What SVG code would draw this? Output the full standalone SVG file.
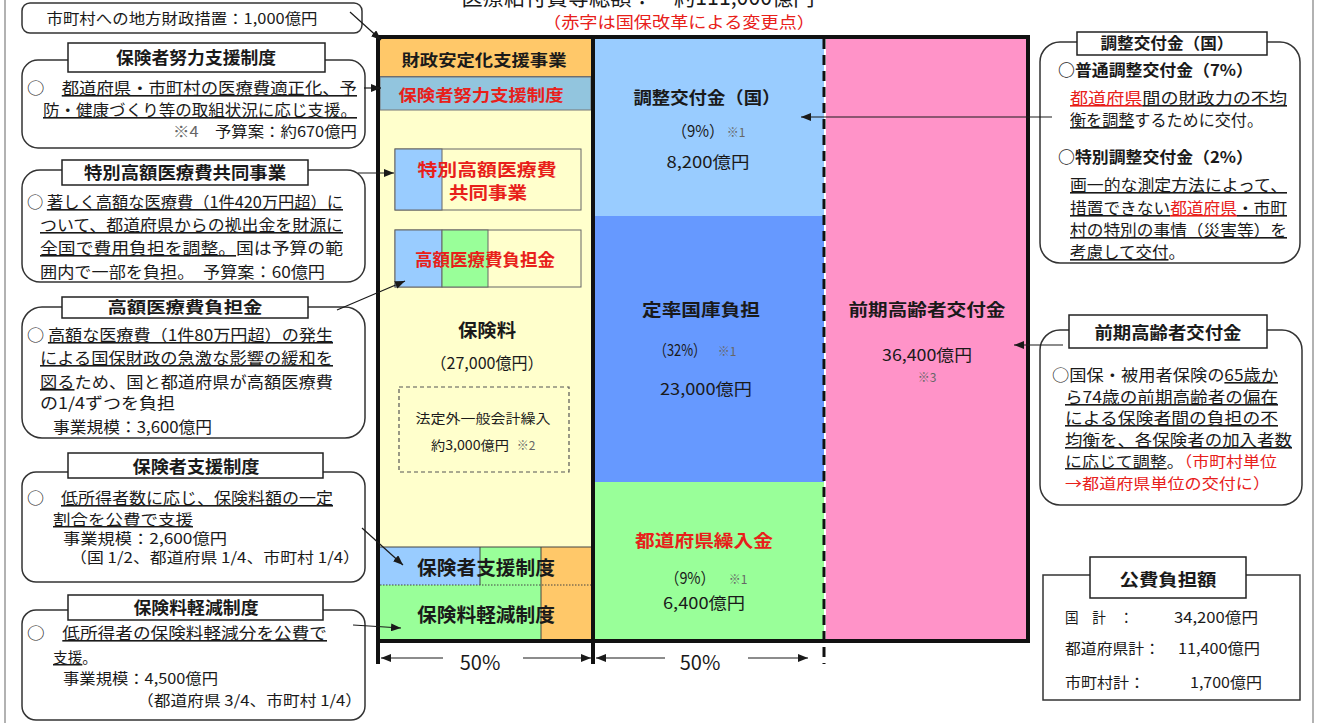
<svg xmlns="http://www.w3.org/2000/svg" width="1330" height="723" viewBox="0 0 1330 723">
<defs>
<marker id="ah" markerUnits="userSpaceOnUse" markerWidth="10" markerHeight="8" refX="10" refY="4" orient="auto"><path d="M0,0 L10,4 L0,8 z" fill="#1a1a1a"/></marker>
<style>
text{font-family:"Noto Sans CJK JP","Noto Sans",sans-serif;fill:#1a1a1a;font-size:16px}
.b{font-weight:700}
.r{fill:#E8201A}
.u{text-decoration:underline}
.g{fill:#666}
.m{text-anchor:middle}
.e{text-anchor:end}
.s{font-size:15px}
.call{fill:#fff;stroke:#333;stroke-width:1.5}
.ttl{fill:#fff;stroke:#222;stroke-width:1.5}
.cn{stroke:#1a1a1a;stroke-width:1.2;fill:none;marker-end:url(#ah)}
.thin{stroke:#666;stroke-width:1;fill:none}
</style>
</defs>
<rect width="1330" height="723" fill="#fff"/>
<line x1="5" y1="0" x2="5" y2="723" stroke="#999" stroke-width="1.5"/>
<line x1="1313" y1="0" x2="1313" y2="723" stroke="#999" stroke-width="1.5"/>

<g id="title">
<text x="638" y="5" class="m" style="font-size:22px" textLength="353" lengthAdjust="spacingAndGlyphs">医療給付費等総額：　約111,000億円</text>
<text x="679" y="28" class="m r" style="font-size:16px" textLength="272" lengthAdjust="spacingAndGlyphs">（赤字は国保改革による変更点）</text>
</g>

<g id="chart">
<rect x="380" y="38" width="211" height="509" fill="#FFFFCC"/>
<rect x="380" y="38" width="211" height="38" fill="#FFC869"/>
<line x1="380" y1="76.5" x2="591" y2="76.5" class="thin"/>
<rect x="380" y="77" width="211" height="33" fill="#92C5DE" stroke="#777" stroke-width="1"/>
<rect x="595" y="38" width="229" height="178" fill="#99CCFF"/>
<rect x="595" y="216" width="229" height="266" fill="#6699FF"/>
<rect x="595" y="482" width="229" height="159" fill="#99FF99"/>
<rect x="826" y="38" width="202" height="603" fill="#FF93C8"/>
<rect x="380" y="547" width="100" height="38" fill="#99CCFF"/>
<rect x="480" y="547" width="61" height="38" fill="#99FF99"/>
<rect x="380" y="585" width="161" height="56" fill="#99FF99"/>
<rect x="541" y="547" width="50" height="94" fill="#FFC869"/>
<line x1="380" y1="547" x2="591" y2="547" stroke="#444" stroke-width="1"/>
<line x1="480" y1="547" x2="480" y2="585" stroke="#444" stroke-width="1"/>
<line x1="541" y1="547" x2="541" y2="641" stroke="#444" stroke-width="1"/>
<line x1="380" y1="585" x2="591" y2="585" stroke="#444" stroke-width="1" stroke-dasharray="1.5 1.5"/>
<rect x="378" y="37" width="650" height="604" fill="none" stroke="#111" stroke-width="4"/>
<line x1="378" y1="37" x2="378" y2="664" stroke="#111" stroke-width="4"/>
<line x1="593" y1="37" x2="593" y2="664" stroke="#111" stroke-width="4"/>
<line x1="824" y1="39" x2="824" y2="664" stroke="#111" stroke-width="3" stroke-dasharray="10 6"/>
</g>

<g id="n-zaisei">
<text x="484" y="66" class="m b" textLength="165" lengthAdjust="spacingAndGlyphs">財政安定化支援事業</text>
</g>
<g id="n-doryoku">
<text x="481" y="101" class="m b r" textLength="165" lengthAdjust="spacingAndGlyphs">保険者努力支援制度</text>
</g>
<g id="n-tokubetsu">
<rect x="395" y="149" width="186" height="61" fill="#FFFFCC" stroke="#666" stroke-width="1"/>
<rect x="395" y="149" width="47" height="61" fill="#99CCFF" stroke="#666" stroke-width="1"/>
<text x="487" y="176" class="m b r" style="font-size:17px" textLength="139" lengthAdjust="spacingAndGlyphs">特別高額医療費</text>
<text x="488" y="199" class="m b r" style="font-size:17px" textLength="78" lengthAdjust="spacingAndGlyphs">共同事業</text>
</g>
<g id="n-kougaku">
<rect x="395" y="230" width="186" height="57" fill="#FFFFCC" stroke="#666" stroke-width="1"/>
<rect x="395" y="230" width="47" height="57" fill="#99CCFF" stroke="#666" stroke-width="1"/>
<rect x="442" y="230" width="46" height="57" fill="#99FF99" stroke="#666" stroke-width="1"/>
<text x="485" y="266" class="m b r" style="font-size:17px" textLength="140" lengthAdjust="spacingAndGlyphs">高額医療費負担金</text>
</g>
<g id="n-hokenryo">
<text x="487" y="337" class="m b" style="font-size:18px" textLength="58" lengthAdjust="spacingAndGlyphs">保険料</text>
<text x="487" y="369" class="m" textLength="113" lengthAdjust="spacingAndGlyphs">（27,000億円）</text>
<rect x="399" y="387" width="170" height="85" fill="none" stroke="#555" stroke-width="1.2" stroke-dasharray="4 3"/>
<text x="483" y="423" class="m" style="font-size:13px" textLength="135" lengthAdjust="spacingAndGlyphs">法定外一般会計繰入</text>
<text x="470" y="450" class="m" style="font-size:13px" textLength="78" lengthAdjust="spacingAndGlyphs">約3,000億円</text>
<text x="526" y="450" class="m g" style="font-size:12px">※2</text>
</g>
<g id="n-shien">
<text x="486" y="575" class="m b" style="font-size:19px" textLength="138" lengthAdjust="spacingAndGlyphs">保険者支援制度</text>
</g>
<g id="n-keigen">
<text x="486" y="622" class="m b" style="font-size:19px" textLength="138" lengthAdjust="spacingAndGlyphs">保険料軽減制度</text>
</g>
<g id="n-chousei">
<text x="707" y="104" class="m b" style="font-size:17px" textLength="147" lengthAdjust="spacingAndGlyphs">調整交付金（国）</text>
<text x="698" y="137" class="m" textLength="52" lengthAdjust="spacingAndGlyphs">（9%）</text>
<text x="736" y="137" class="m g" style="font-size:12px">※1</text>
<text x="708" y="168" class="m" textLength="83" lengthAdjust="spacingAndGlyphs">8,200億円</text>
</g>
<g id="n-teiritsu">
<text x="701" y="316" class="m b" style="font-size:17px" textLength="118" lengthAdjust="spacingAndGlyphs">定率国庫負担</text>
<text x="680" y="356" class="m" textLength="52" lengthAdjust="spacingAndGlyphs">（32%）</text>
<text x="727" y="356" class="m g" style="font-size:12px">※1</text>
<text x="706" y="395" class="m" textLength="92" lengthAdjust="spacingAndGlyphs">23,000億円</text>
</g>
<g id="n-kuriire">
<text x="704" y="547" class="m b r" style="font-size:17px" textLength="138" lengthAdjust="spacingAndGlyphs">都道府県繰入金</text>
<text x="690" y="584" class="m" textLength="50" lengthAdjust="spacingAndGlyphs">（9%）</text>
<text x="738" y="584" class="m g" style="font-size:12px">※1</text>
<text x="704" y="609" class="m" textLength="82" lengthAdjust="spacingAndGlyphs">6,400億円</text>
</g>
<g id="n-zenki">
<text x="927" y="316" class="m b" style="font-size:17px" textLength="157" lengthAdjust="spacingAndGlyphs">前期高齢者交付金</text>
<text x="927" y="361" class="m" textLength="90" lengthAdjust="spacingAndGlyphs">36,400億円</text>
<text x="927" y="382" class="m g" style="font-size:12px">※3</text>
</g>

<g id="dimensions">
<line x1="443" y1="658" x2="381" y2="658" class="cn"/>
<line x1="523" y1="658" x2="591" y2="658" class="cn"/>
<text x="480" y="670" class="m" style="font-size:20px">50%</text>
<line x1="665" y1="658" x2="596" y2="658" class="cn"/>
<line x1="748" y1="658" x2="808" y2="658" class="cn"/>
<text x="700" y="670" class="m" style="font-size:20px">50%</text>
</g>

<g id="c-chiho">
<rect x="22" y="3" width="340" height="30" rx="8" class="call"/>
<text x="182" y="24" class="m" style="font-size:15px" textLength="271" lengthAdjust="spacingAndGlyphs">市町村への地方財政措置：1,000億円</text>
</g>

<g id="c-doryoku">
<rect x="22" y="60" width="343" height="88" rx="16" class="call"/>
<rect x="68" y="43" width="257" height="29" class="ttl"/>
<text x="196" y="64" class="m b" style="font-size:17px" textLength="160" lengthAdjust="spacingAndGlyphs">保険者努力支援制度</text>
<text x="27" y="94" textLength="330" lengthAdjust="spacingAndGlyphs">○　<tspan class="u">都道府県・市町村の医療費適正化、予</tspan></text>
<text x="43" y="116" class="u" textLength="314" lengthAdjust="spacingAndGlyphs">防・健康づくり等の取組状況に応じ支援。</text>
<text x="357" y="137" class="e s" textLength="184" lengthAdjust="spacingAndGlyphs"><tspan class="g">※4</tspan>　予算案：約670億円</text>
</g>

<g id="c-tokubetsu">
<rect x="22" y="170" width="343" height="112" rx="18" class="call"/>
<rect x="62" y="160" width="246" height="25" class="ttl"/>
<text x="185" y="179" class="m b" style="font-size:17px" textLength="202" lengthAdjust="spacingAndGlyphs">特別高額医療費共同事業</text>
<text x="27" y="208" textLength="316" lengthAdjust="spacingAndGlyphs">○ <tspan class="u">著しく高額な医療費（1件420万円超）に</tspan></text>
<text x="40" y="231" class="u" textLength="303" lengthAdjust="spacingAndGlyphs">ついて、都道府県からの拠出金を財源に</text>
<text x="40" y="254" textLength="303" lengthAdjust="spacingAndGlyphs"><tspan class="u">全国で費用負担を調整。</tspan>国は予算の範</text>
<text x="40" y="278" textLength="285" lengthAdjust="spacingAndGlyphs">囲内で一部を負担。　予算案：60億円</text>
</g>

<g id="c-kougaku">
<rect x="22" y="307" width="343" height="131" rx="20" class="call"/>
<rect x="62" y="297" width="246" height="21" class="ttl"/>
<text x="185" y="313" class="m b" style="font-size:16px" textLength="155" lengthAdjust="spacingAndGlyphs">高額医療費負担金</text>
<text x="27" y="341" textLength="306" lengthAdjust="spacingAndGlyphs">○ <tspan class="u">高額な医療費（1件80万円超）の発生</tspan></text>
<text x="40" y="364" class="u" textLength="293" lengthAdjust="spacingAndGlyphs">による国保財政の急激な影響の緩和を</text>
<text x="40" y="388" textLength="293" lengthAdjust="spacingAndGlyphs"><tspan class="u">図る</tspan>ため、国と都道府県が高額医療費</text>
<text x="40" y="409" textLength="135" lengthAdjust="spacingAndGlyphs">の1/4ずつを負担</text>
<text x="53" y="433" textLength="159" lengthAdjust="spacingAndGlyphs">事業規模：3,600億円</text>
</g>

<g id="c-shien">
<rect x="22" y="472" width="343" height="110" rx="14" class="call"/>
<rect x="68" y="453" width="255" height="25" class="ttl"/>
<text x="196" y="473" class="m b" style="font-size:17px" textLength="127" lengthAdjust="spacingAndGlyphs">保険者支援制度</text>
<text x="27" y="504" textLength="306" lengthAdjust="spacingAndGlyphs">○　<tspan class="u">低所得者数に応じ、保険料額の一定</tspan></text>
<text x="53" y="525" class="u s" textLength="140" lengthAdjust="spacingAndGlyphs">割合を公費で支援</text>
<text x="63" y="544" class="s" textLength="164" lengthAdjust="spacingAndGlyphs">事業規模：2,600億円</text>
<text x="70" y="563" class="s" textLength="290" lengthAdjust="spacingAndGlyphs">（国 1/2、都道府県 1/4、市町村 1/4）</text>
</g>

<g id="c-keigen">
<rect x="22" y="610" width="343" height="110" rx="14" class="call"/>
<rect x="68" y="595" width="255" height="25" class="ttl"/>
<text x="196" y="614" class="m b" style="font-size:17px" textLength="125" lengthAdjust="spacingAndGlyphs">保険料軽減制度</text>
<text x="27" y="639" textLength="300" lengthAdjust="spacingAndGlyphs">○　<tspan class="u">低所得者の保険料軽減分を公費で</tspan></text>
<text x="53" y="663" class="s" textLength="44" lengthAdjust="spacingAndGlyphs"><tspan class="u">支援</tspan>。</text>
<text x="63" y="684" class="s" textLength="155" lengthAdjust="spacingAndGlyphs">事業規模：4,500億円</text>
<text x="362" y="706" class="e s" textLength="225" lengthAdjust="spacingAndGlyphs">（都道府県 3/4、市町村 1/4）</text>
</g>

<g id="c-chousei">
<rect x="1040" y="42" width="260" height="221" rx="20" class="call"/>
<rect x="1077" y="32" width="190" height="23" class="ttl"/>
<text x="1167" y="49" class="m b" style="font-size:16px" textLength="133" lengthAdjust="spacingAndGlyphs">調整交付金（国）</text>
<text x="1058" y="76" class="b" textLength="195" lengthAdjust="spacingAndGlyphs">○普通調整交付金（7%）</text>
<text x="1070" y="104" textLength="217" lengthAdjust="spacingAndGlyphs"><tspan class="u r">都道府県</tspan><tspan class="u">間の財政力の不均</tspan></text>
<text x="1070" y="126" textLength="193" lengthAdjust="spacingAndGlyphs"><tspan class="u">衡を調整</tspan>するために交付。</text>
<text x="1058" y="163" class="b" textLength="195" lengthAdjust="spacingAndGlyphs">○特別調整交付金（2%）</text>
<text x="1070" y="191" class="u" textLength="217" lengthAdjust="spacingAndGlyphs">画一的な測定方法によって、</text>
<text x="1070" y="214" textLength="217" lengthAdjust="spacingAndGlyphs"><tspan class="u">措置できない</tspan><tspan class="u r">都道府県</tspan><tspan class="u">・市町</tspan></text>
<text x="1070" y="236" class="u" textLength="217" lengthAdjust="spacingAndGlyphs">村の特別の事情（災害等）を</text>
<text x="1070" y="258" textLength="115" lengthAdjust="spacingAndGlyphs"><tspan class="u">考慮して交付</tspan>。</text>
</g>

<g id="c-zenki">
<rect x="1040" y="330" width="262" height="175" rx="20" class="call"/>
<rect x="1069" y="315" width="198" height="33" class="ttl"/>
<text x="1168" y="339" class="m b" style="font-size:17px" textLength="147" lengthAdjust="spacingAndGlyphs">前期高齢者交付金</text>
<text x="1052" y="381" textLength="226" lengthAdjust="spacingAndGlyphs">○国保・被用者保険の<tspan class="u">65歳か</tspan></text>
<text x="1065" y="403" class="u" textLength="213" lengthAdjust="spacingAndGlyphs">ら74歳の前期高齢者の偏在</text>
<text x="1065" y="424" class="u" textLength="213" lengthAdjust="spacingAndGlyphs">による保険者間の負担の不</text>
<text x="1065" y="446" class="u" textLength="227" lengthAdjust="spacingAndGlyphs">均衡を、各保険者の加入者数</text>
<text x="1065" y="467" class="s" textLength="212" lengthAdjust="spacingAndGlyphs"><tspan class="u">に応じて調整</tspan>。<tspan class="r">（市町村単位</tspan></text>
<text x="1065" y="489" class="r s" textLength="205" lengthAdjust="spacingAndGlyphs">→都道府県単位の交付に）</text>
</g>

<g id="c-kouhi">
<rect x="1043" y="575" width="257" height="125" fill="#fff" stroke="#333" stroke-width="1.5"/>
<rect x="1090" y="557" width="156" height="41" class="ttl"/>
<text x="1168" y="586" class="m b" style="font-size:17px" textLength="97" lengthAdjust="spacingAndGlyphs">公費負担額</text>
<text x="1065" y="623" style="font-size:15px" textLength="68" lengthAdjust="spacingAndGlyphs">国　計　：</text>
<text x="1258" y="623" class="e" style="font-size:15px" textLength="84" lengthAdjust="spacingAndGlyphs">34,200億円</text>
<text x="1065" y="654" style="font-size:15px" textLength="95" lengthAdjust="spacingAndGlyphs">都道府県計：</text>
<text x="1260" y="654" class="e" style="font-size:15px" textLength="82" lengthAdjust="spacingAndGlyphs">11,400億円</text>
<text x="1065" y="688" style="font-size:15px" textLength="80" lengthAdjust="spacingAndGlyphs">市町村計：</text>
<text x="1262" y="688" class="e" style="font-size:15px" textLength="72" lengthAdjust="spacingAndGlyphs">1,700億円</text>
</g>

<g id="connectors">
<line x1="350" y1="12" x2="381" y2="40" class="cn"/>
<line x1="364" y1="88" x2="381" y2="88" class="cn"/>
<line x1="358" y1="173" x2="394" y2="173" class="cn"/>
<line x1="337" y1="310" x2="405" y2="281" class="cn"/>
<line x1="362" y1="528" x2="403" y2="565" class="cn"/>
<line x1="353" y1="625" x2="401" y2="628" class="cn"/>
<line x1="1052" y1="117" x2="801" y2="117" class="cn"/>
<line x1="1063" y1="345" x2="1014" y2="345" class="cn"/>
</g>
</svg>
